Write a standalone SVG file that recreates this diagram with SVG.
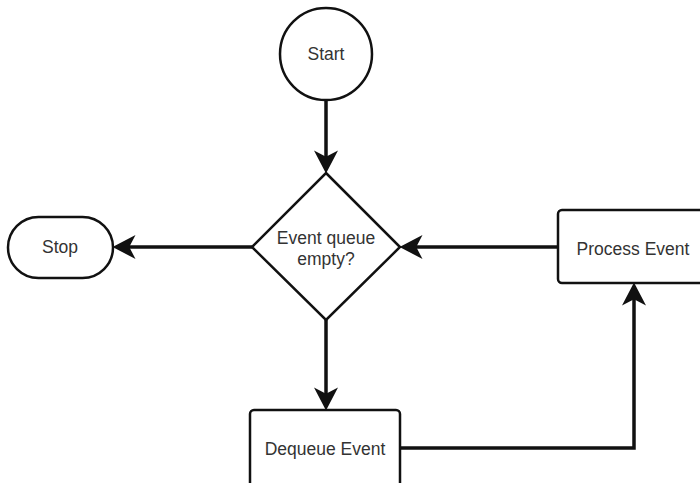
<svg xmlns="http://www.w3.org/2000/svg" width="700" height="483" viewBox="0 0 700 483">
<defs>
<style>
.shape{fill:#fff;stroke:#111;stroke-width:2.5}
.lbl{font-family:"Liberation Sans",Arial,Helvetica,sans-serif;font-size:17.5px;fill:#333;text-anchor:middle}
.conn{fill:none;stroke:#111;stroke-width:3.5;stroke-linejoin:miter}
</style>
<marker id="arrow" markerUnits="userSpaceOnUse" markerWidth="24" markerHeight="24" viewBox="0 0 22 23" refX="12" refY="11.5" orient="auto">
<path d="M0,0 L22,11.5 L0,23 L6,11.5 Z" fill="#111"/>
</marker>
</defs>
<rect width="700" height="483" fill="#fff"/>
<g id="connectors">
<path class="conn" d="M326,100 V163" marker-end="url(#arrow)"/>
<path class="conn" d="M252,247 H123" marker-end="url(#arrow)"/>
<path class="conn" d="M558,247 H410" marker-end="url(#arrow)"/>
<path class="conn" d="M326,320 V400" marker-end="url(#arrow)"/>
<path class="conn" d="M400,448 H634 V293" marker-end="url(#arrow)"/>
</g>
<g id="start">
<circle class="shape" cx="326" cy="54" r="46"/>
<text class="lbl" x="326" y="60">Start</text>
</g>
<g id="decision">
<polygon class="shape" points="326,173 400,247 326,320 252,247"/>
<text class="lbl" x="326" y="244">Event queue</text>
<text class="lbl" x="326" y="265">empty?</text>
</g>
<g id="stop">
<rect class="shape" x="8" y="217" width="105" height="61" rx="30.5" ry="30.5"/>
<text class="lbl" x="60" y="253">Stop</text>
</g>
<g id="process">
<rect class="shape" x="558" y="210" width="150" height="73" rx="4" ry="4"/>
<text class="lbl" x="633" y="255">Process Event</text>
</g>
<g id="dequeue">
<rect class="shape" x="250" y="410" width="150" height="80" rx="4" ry="4"/>
<text class="lbl" x="325" y="455">Dequeue Event</text>
</g>
</svg>
